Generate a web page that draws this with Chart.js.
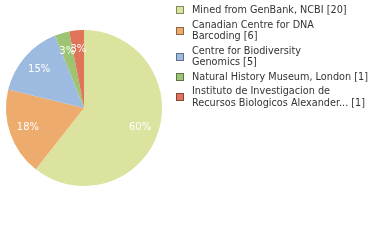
<!DOCTYPE html>
<html>
<head>
<meta charset="utf-8">
<script src="https://cdn.jsdelivr.net/npm/chart.js@4"></script>
<style>
    body { margin: 0; background: #fff; }
    #wrap { position: relative; width: 380px; height: 240px; }
    #legend {
        position: absolute; left: 176px; top: 4px; width: 204px;
        font-family: "DejaVu Sans", Verdana, sans-serif; font-size: 9.7px; color: #333;
    }
    .item { display: flex; align-items: center; margin-bottom: 3px; line-height: 11.5px; }
    .box { width: 6px; height: 6px; border: 1px solid rgba(0,0,0,0.4); margin-right: 8px; margin-top: 1px; flex: none; }
</style>
</head>
<body>
<div id="wrap">
    <canvas id="myChart" width="380" height="240"></canvas>
    <div id="legend"></div>
</div>
<script>
// categories (wrapped as in the original legend) and their counts
const categories = [
    ['Mined from GenBank, NCBI'],
    ['Canadian Centre for DNA', 'Barcoding'],
    ['Centre for Biodiversity', 'Genomics'],
    ['Natural History Museum, London'],
    ['Instituto de Investigacion de', 'Recursos Biologicos Alexander...']
];
const counts = [20, 6, 5, 1, 1];
const colors = ['#dce39f', '#eeab6e', '#9dbbe0', '#9cc472', '#e0745a'];

// legend as html, built from the same arrays
let legend = document.getElementById('legend');
categories.forEach((lines, i) => {
    let text = lines.slice(0, -1).join('<br>') + (lines.length > 1 ? '<br>' : '') + lines[lines.length - 1] + ' [' + counts[i] + ']';
    legend.innerHTML += `<div class="item"><span class="box" style="background:${colors[i]}"></span><span>${text}</span></div>`;
});

// white percentage labels inside the slices
const pctLabels = {
    id: 'pctLabels',
    afterDatasetsDraw(chart) {
        let ctx = chart.ctx;
        let total = counts.reduce((a, b) => a + b, 0);
        ctx.save();
        ctx.font = '10px "DejaVu Sans"';
        ctx.fillStyle = '#fff';
        ctx.textAlign = 'center';
        ctx.textBaseline = 'middle';
        chart.getDatasetMeta(0).data.forEach((arc, i) => {
            let mid = (arc.startAngle + arc.endAngle) / 2;
            let r = arc.outerRadius * 0.76;
            let pct = Math.floor(counts[i] / total * 100) + '%';
            ctx.fillText(pct, arc.x + Math.cos(mid) * r, arc.y + Math.sin(mid) * r);
        });
        ctx.restore();
    }
};

var ctx = document.getElementById('myChart');
var chart = new Chart(ctx, {
    type: 'pie',
    data: {
        labels: categories,
        datasets: [{
            data: counts,
            backgroundColor: colors,
            borderWidth: 0
        }]
    },
    options: {
        responsive: false,
        animation: false,
        layout: { padding: { left: 6, top: 30, right: 218, bottom: 54 } },
        plugins: {
            legend: { display: false },
            tooltip: { enabled: false }
        }
    },
    plugins: [pctLabels]
});
</script>
</body>
</html>
